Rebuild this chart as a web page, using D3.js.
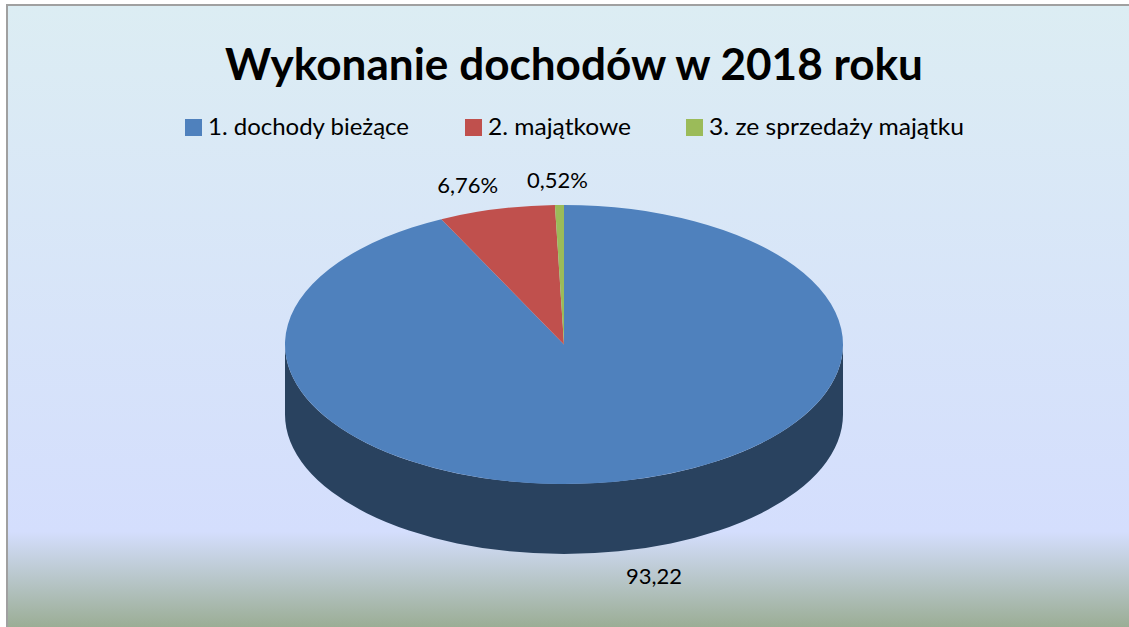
<!DOCTYPE html>
<html>
<head>
<meta charset="utf-8">
<script src="https://cdn.jsdelivr.net/npm/d3@7"></script>
<style>
  body { margin: 0; background: #ffffff; }
  text { font-family: Lato, "Open Sans", sans-serif; fill: #000; }
</style>
</head>
<body>
<svg id="chart" width="1129" height="627"></svg>
<script>
// data
let categories = ["1. dochody bieżące", "2. majątkowe", "3. ze sprzedaży majątku"]
let values = [93.22, 6.76, 0.52]
let labels = ["93,22", "6,76%", "0,52%"]
let colors = ["#4f81bd", "#c0504d", "#9bbb59"]
let sideColors = ["#29425f", "#7a2f2d", "#5d7434"]

let width = 1129, height = 627
let svg = d3.select("#chart")

// background gradient
let defs = svg.append("defs")
let grad = defs.append("linearGradient")
  .attr("id", "bg")
  .attr("x1", 0).attr("y1", 0).attr("x2", 0).attr("y2", 1)
grad.append("stop").attr("offset", "0%").attr("stop-color", "#dcedf3")
grad.append("stop").attr("offset", "84%").attr("stop-color", "#d4defd")
grad.append("stop").attr("offset", "100%").attr("stop-color", "#98ab90")

svg.append("rect")
  .attr("x", 7).attr("y", 5)
  .attr("width", width).attr("height", height)
  .attr("fill", "url(#bg)")
  .attr("stroke", "#a0a0a0")
  .attr("stroke-width", 2)

svg.append("text")
  .attr("x", 225)
  .attr("y", 80)
  .attr("textLength", 698)
  .attr("lengthAdjust", "spacingAndGlyphs")
  .style("font-size", "43px")
  .style("font-weight", "bold")
  .text("Wykonanie dochodów w 2018 roku")

// legend
let legendX = [185, 465, 686]
let legendW = [201, 143, 255]
let legend = svg.append("g")
  .selectAll("g")
  .data(categories)
  .join("g")
  .attr("transform", (d, i) => `translate(${legendX[i]},119)`)

legend.append("rect")
  .attr("width", 17).attr("height", 17)
  .attr("fill", (d, i) => colors[i])

legend.append("text")
  .attr("x", 23)
  .attr("y", 16)
  .attr("textLength", (d, i) => legendW[i])
  .attr("lengthAdjust", "spacingAndGlyphs")
  .style("font-size", "23px")
  .text(d => d)

// 3D pie
let cx = 564, cy = 344.5, rx = 279, ry = 139.5, depth = 70

let pie = d3.pie().sort(null).value(d => d)
let arcs = pie(values)

function pt(a, dy = 0) {
  return [cx + rx * Math.sin(a), cy - ry * Math.cos(a) + dy]
}

function topPath(d) {
  let p0 = pt(d.startAngle), p1 = pt(d.endAngle)
  let large = d.endAngle - d.startAngle > Math.PI ? 1 : 0
  return `M${cx},${cy}L${p0}A${rx},${ry} 0 ${large} 1 ${p1}Z`
}

function sidePath(d) {
  let a0 = Math.max(d.startAngle, Math.PI / 2)
  let a1 = Math.min(d.endAngle, 3 * Math.PI / 2)
  if (a1 <= a0) return null
  let large = a1 - a0 > Math.PI ? 1 : 0
  return `M${pt(a0)}A${rx},${ry} 0 ${large} 1 ${pt(a1)}` +
    `L${pt(a1, depth)}A${rx},${ry} 0 ${large} 0 ${pt(a0, depth)}Z`
}

let pieG = svg.append("g")

pieG.selectAll("path.side")
  .data(arcs.filter(d => sidePath(d)))
  .join("path")
  .attr("class", "side")
  .attr("fill", d => sideColors[d.index])
  .attr("d", sidePath)

pieG.selectAll("path.top")
  .data(arcs)
  .join("path")
  .attr("class", "top")
  .attr("fill", d => colors[d.index])
  .attr("d", topPath)

// data labels
let lrx = rx * 1.43, lry = 165
pieG.selectAll("text")
  .data(arcs)
  .join("text")
  .attr("text-anchor", "middle")
  .attr("dominant-baseline", "central")
  .style("font-size", "22px")
  .attr("x", d => cx + lrx * Math.sin((d.startAngle + d.endAngle) / 2))
  .attr("y", d => {
    let c = Math.cos((d.startAngle + d.endAngle) / 2)
    return cy - lry * c + (c < 0 ? depth : 0)
  })
  .text(d => labels[d.index])
</script>
</body>
</html>
